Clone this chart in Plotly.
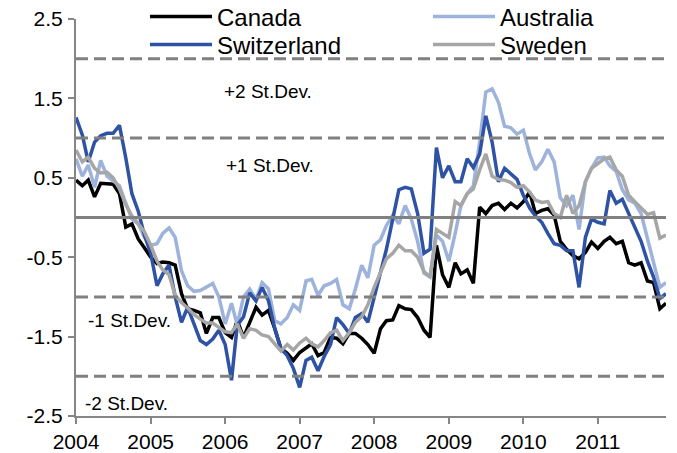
import plotly.graph_objects as go
import pandas as pd

# Monthly observations, Jan 2004 - Dec 2011
start_month = "2004-01-01"
end_month = "2011-12-01"
n_months = 96

canada = [0.47, 0.40, 0.47, 0.26, 0.43, 0.42, 0.42, 0.30, -0.12, -0.08,
          -0.27, -0.38, -0.50, -0.58, -0.56, -0.57, -0.60, -0.96, -1.15, -1.17,
          -1.20, -1.46, -1.26, -1.26, -1.45, -1.51, -1.30, -1.51, -1.32, -1.13,
          -1.23, -1.17, -1.40, -1.65, -1.71, -1.80, -1.70, -1.64, -1.59, -1.74,
          -1.70, -1.51, -1.52, -1.59, -1.46, -1.46, -1.52, -1.60, -1.71, -1.40,
          -1.30, -1.29, -1.11, -1.15, -1.16, -1.26, -1.42, -1.51, -0.35, -0.72,
          -0.88, -0.57, -0.71, -0.66, -0.83, 0.13, 0.05, 0.15, 0.18, 0.10,
          0.18, 0.12, 0.20, 0.32, 0.05, 0.09, 0.11, 0.03, -0.30, -0.40,
          -0.48, -0.52, -0.44, -0.31, -0.39, -0.30, -0.25, -0.33, -0.30, -0.57,
          -0.60, -0.57, -0.80, -0.82, -1.15, -1.08]

australia = [0.74, 0.52, 0.66, 0.38, 0.72, 0.52, 0.46, 0.40, 0.18, -0.02,
             -0.08, -0.25, -0.35, -0.33, -0.20, -0.13, -0.25, -0.67, -0.86, -0.93,
             -0.92, -0.88, -0.83, -1.00, -1.34, -1.08, -1.35, -1.00, -0.90, -1.03,
             -0.82, -0.90, -1.30, -1.34, -1.26, -1.10, -1.17, -0.80, -0.78, -0.98,
             -0.86, -0.83, -0.78, -1.10, -1.15, -0.90, -0.60, -0.76, -0.35, -0.28,
             -0.10, 0.03, -0.08, 0.15, -0.02, -0.30, -0.70, -0.75, -0.22, -0.30,
             -0.55, -0.20, 0.15, 0.30, 0.40, 0.95, 1.58, 1.62, 1.45, 1.15,
             1.13, 1.05, 1.10, 0.80, 0.60, 0.70, 0.86, 0.70, 0.25, 0.15,
             0.28, -0.15, 0.45, 0.62, 0.75, 0.76, 0.65, 0.58, 0.35, 0.22,
             0.18, 0.05, -0.25, -0.55, -0.88, -0.82]

switzerland = [1.26, 1.04, 0.70, 0.95, 1.03, 1.06, 1.06, 1.16, 0.75, 0.30,
               0.08, -0.22, -0.45, -0.86, -0.71, -0.60, -1.00, -1.32, -1.13, -1.35,
               -1.55, -1.60, -1.53, -1.42, -1.60, -2.05, -1.36, -1.25, -0.95, -1.05,
               -0.88, -1.05, -1.40, -1.65, -1.74, -1.90, -2.14, -1.80, -1.76, -1.93,
               -1.75, -1.60, -1.26, -1.35, -1.46, -1.26, -1.21, -1.32, -1.00, -0.70,
               -0.40, -0.02, 0.35, 0.38, 0.36, 0.05, -0.45, -0.40, 0.88, 0.50,
               0.65, 0.45, 0.45, 0.74, 0.63, 0.80, 1.28, 0.95, 0.45, 0.62,
               0.55, 0.48, 0.28, 0.12, 0.02, -0.06, -0.20, -0.33, -0.35, -0.42,
               -0.42, -0.88, -0.25, -0.02, -0.06, -0.08, 0.34, 0.18, 0.23, 0.05,
               -0.14, -0.30, -0.55, -0.75, -1.02, -0.96]

sweden = [0.85, 0.70, 0.76, 0.62, 0.56, 0.57, 0.50, 0.36, 0.16, 0.02,
          -0.08, -0.18, -0.35, -0.55, -0.66, -0.72, -0.98, -1.07, -1.14, -1.22,
          -1.28, -1.33, -1.33, -1.38, -1.44, -1.45, -1.34, -1.52, -1.40, -1.42,
          -1.48, -1.50, -1.60, -1.68, -1.60, -1.67, -1.58, -1.52, -1.59, -1.63,
          -1.55, -1.45, -1.42, -1.55, -1.45, -1.32, -1.25, -1.10, -0.88, -0.70,
          -0.52, -0.45, -0.35, -0.42, -0.42, -0.50, -0.68, -0.75, -0.15, -0.20,
          -0.25, 0.20, 0.15, 0.30, 0.36, 0.60, 0.80, 0.52, 0.48, 0.47,
          0.44, 0.38, 0.40, 0.32, 0.22, 0.19, 0.20, 0.05, 0.00, 0.28,
          0.05, 0.15, 0.45, 0.62, 0.68, 0.74, 0.76, 0.60, 0.52, 0.28,
          0.20, 0.12, 0.04, 0.06, -0.26, -0.22]

band_levels = [2, 1, -1, -2]
band_labels = ["+2 St.Dev.", "+1 St.Dev.", "-1 St.Dev.", "-2 St.Dev."]
band_label_y = [1.59, 0.65, -1.30, -2.34]
band_label_x = [0.325, 0.328, 0.09, 0.086]

y_ticks = [2.5, 1.5, 0.5, -0.5, -1.5, -2.5]

dates = [d.strftime("%Y-%m-%d") for d in pd.date_range(start_month, periods=n_months, freq="MS")]

FONT = "Liberation Sans, Arial, sans-serif"
AXIS_GREY = "#868686"

# name, values, colour, legend id, legend left px, legend row centre px
series = [
    ("Canada", canada, "#000000", "legend", 145, 17),
    ("Australia", australia, "#9DB3DC", "legend2", 428, 17),
    ("Switzerland", switzerland, "#2E52A4", "legend3", 145, 45),
    ("Sweden", sweden, "#A6A6A6", "legend4", 428, 45),
]

fig = go.Figure()
legends = {}
for name, vals, color, lg, lx, ly in series:
    fig.add_trace(go.Scatter(
        x=dates, y=vals, name=name, mode="lines",
        line=dict(color=color, width=3.5),
        legend=lg,
    ))
    legends[lg] = dict(xref="container", yref="container",
                       x=lx / 677, y=1 - ly / 453,
                       xanchor="left", yanchor="middle",
                       bgcolor="rgba(0,0,0,0)",
                       font=dict(family=FONT, size=24, color="#000000"),
                       itemwidth=62, tracegroupgap=0, orientation="v")

shapes = []
for lvl in band_levels:
    shapes.append(dict(type="line", xref="paper", x0=0, x1=1, yref="y",
                       y0=lvl, y1=lvl, layer="above",
                       line=dict(color="#808080", width=3, dash="12px,6px")))
shapes.append(dict(type="line", xref="paper", x0=0, x1=1, yref="y",
                   y0=0, y1=0, layer="above",
                   line=dict(color="#808080", width=3)))

annotations = []
for txt, ax, ay in zip(band_labels, band_label_x, band_label_y):
    annotations.append(dict(text=txt, xref="paper", x=ax, yref="y", y=ay,
                            showarrow=False, xanchor="center", yanchor="middle",
                            font=dict(family=FONT, size=19, color="#000000")))

fig.update_layout(
    width=677, height=453,
    margin=dict(l=76, r=11, t=19, b=37, autoexpand=False),
    paper_bgcolor="white", plot_bgcolor="white",
    font=dict(family=FONT, color="#000000"),
    shapes=shapes,
    annotations=annotations,
    showlegend=True,
    xaxis=dict(
        range=[start_month, end_month],
        type="date", dtick="M12", tick0=start_month, tickformat="%Y",
        showgrid=False, zeroline=False,
        showline=True, linecolor=AXIS_GREY, linewidth=2,
        ticks="outside", ticklen=6, tickwidth=2, tickcolor=AXIS_GREY,
        tickfont=dict(family=FONT, size=21, color="#000000"),
    ),
    yaxis=dict(
        range=[-2.5, 2.5],
        tickvals=y_ticks, ticktext=[str(v) for v in y_ticks],
        showgrid=False, zeroline=False,
        showline=True, linecolor=AXIS_GREY, linewidth=2,
        ticks="outside", ticklen=6, tickwidth=2, tickcolor=AXIS_GREY,
        ticklabelstandoff=1,
        tickfont=dict(family=FONT, size=21, color="#000000"),
    ),
    **legends,
)

fig.write_html("out.html", config={"displayModeBar": False},
               post_script="document.body.style.margin='0';")
